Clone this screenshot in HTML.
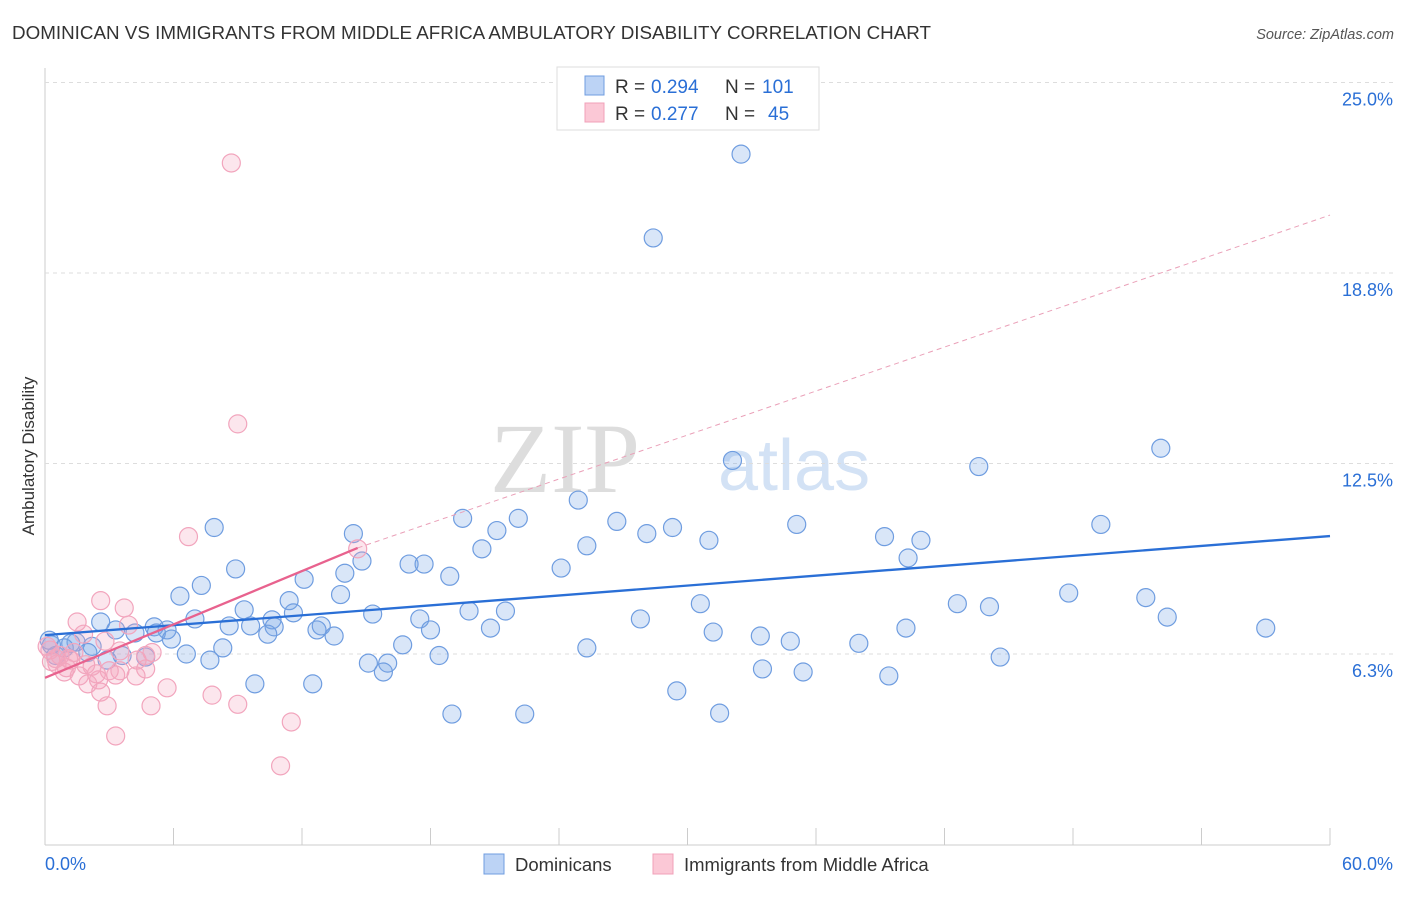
<!DOCTYPE html>
<html><head><meta charset="utf-8"><style>
body{margin:0;background:#fff;font-family:"Liberation Sans",sans-serif}
</style></head><body>
<svg id="c" width="1406" height="892" xmlns="http://www.w3.org/2000/svg" style="font-family:'Liberation Sans',sans-serif">
<text x="12" y="39" font-size="18" fill="#333" textLength="919" lengthAdjust="spacingAndGlyphs">DOMINICAN VS IMMIGRANTS FROM MIDDLE AFRICA AMBULATORY DISABILITY CORRELATION CHART</text>
<text x="1394" y="39" font-size="14.5" fill="#555" text-anchor="end" font-style="italic">Source: ZipAtlas.com</text>
<text x="640" y="492" font-size="100" fill="#ddd" text-anchor="end" font-family="Liberation Serif,serif">ZIP</text>
<text x="718" y="490" font-size="72" fill="#d3e2f5">atlas</text>
<text x="34" y="456" font-size="17" fill="#333" text-anchor="middle" transform="rotate(-90 34 456)">Ambulatory Disability</text>
<g id="grid"></g><g id="pts"></g><g id="lines"></g>
<g>
<rect x="557" y="67" width="262" height="63" fill="#fff" stroke="#ddd"/>
<rect x="585" y="76" width="19" height="19" fill="#bcd3f5" stroke="#6f9de0"/>
<rect x="585" y="103" width="19" height="19" fill="#fbc8d6" stroke="#f0a0b8"/>
<text x="615" y="93" font-size="19" fill="#333">R =</text>
<text x="651" y="93" font-size="19" fill="#2a6fd6">0.294</text>
<text x="725" y="93" font-size="19" fill="#333">N =</text>
<text x="762" y="93" font-size="19" fill="#2a6fd6">101</text>
<text x="615" y="120" font-size="19" fill="#333">R =</text>
<text x="651" y="120" font-size="19" fill="#2a6fd6">0.277</text>
<text x="725" y="120" font-size="19" fill="#333">N =</text>
<text x="768" y="120" font-size="19" fill="#2a6fd6">45</text>
</g>
<g>
<rect x="484" y="854" width="20" height="20" fill="#bcd3f5" stroke="#6f9de0"/>
<text x="515" y="871" font-size="18.5" fill="#333">Dominicans</text>
<rect x="653" y="854" width="20" height="20" fill="#fbc8d6" stroke="#f0a0b8"/>
<text x="684" y="871" font-size="18.5" fill="#333">Immigrants from Middle Africa</text>
</g>
</svg>
<script>
const yTicks=[6.25,12.5,18.75,25];
const yTickLabels=["6.3%","12.5%","18.8%","25.0%"];
const xTickLabels=["0.0%","60.0%"];
const blueX=[32.5,28.4,52.1,43.6,32.1,24.9,19.5,22.1,26.7,29.3,35.1,49.3,21.1,28.1,39.2,14.4,7.9,31.0,40.9,25.3,20.4,40.3,14.8,17.0,17.7,24.1,8.9,18.9,12.1,14.0,7.3,6.3,13.8,47.8,51.4,30.6,42.6,44.1,11.4,9.3,19.8,21.5,11.6,15.3,17.5,27.8,52.4,7.0,10.6,2.6,8.6,9.6,10.7,12.9,5.1,5.7,20.8,40.2,57.0,3.3,4.2,5.2,12.7,18.0,31.2,10.4,13.5,33.4,5.9,34.8,38.0,16.7,8.3,25.3,1.45,2.2,0.9,0.3,0.5,2.0,6.6,3.6,4.7,2.9,7.7,18.4,44.6,15.1,16.0,15.8,33.5,35.4,39.4,9.8,12.5,29.5,19.0,22.4,31.5,0.2,1.2];
const blueY=[22.65,19.9,13.0,12.4,12.6,11.3,10.7,10.7,10.6,10.4,10.5,10.5,10.3,10.2,10.1,10.2,10.4,9.98,9.98,9.8,9.7,9.4,9.3,9.2,9.2,9.07,9.04,8.8,8.7,8.9,8.5,8.15,8.2,8.25,8.1,7.9,7.9,7.8,8.0,7.7,7.66,7.66,7.6,7.56,7.4,7.4,7.46,7.4,7.37,7.3,7.17,7.17,7.14,7.17,7.14,7.04,7.1,7.1,7.1,7.04,6.94,6.94,7.04,7.04,6.97,6.9,6.84,6.84,6.74,6.67,6.6,6.55,6.45,6.45,6.64,6.5,6.45,6.55,6.2,6.3,6.25,6.2,6.15,6.05,6.05,6.2,6.15,5.95,5.95,5.66,5.76,5.66,5.53,5.27,5.27,5.04,4.28,4.28,4.31,6.7,6.6];
const pinkX=[8.7,9.0,6.7,14.6,2.6,3.7,1.5,3.9,1.8,2.8,0.23,0.7,1.2,3.5,4.7,4.3,0.56,1.0,2.2,3.5,4.7,0.9,1.6,2.5,3.3,4.25,2.0,2.6,5.7,7.8,2.9,4.95,9.0,11.5,3.3,11.0,0.3,1.35,0.5,1.9,5.0,0.1,2.4,3.0,1.1];
const pinkY=[22.36,13.8,10.1,9.7,8.0,7.76,7.3,7.2,6.9,6.67,6.38,6.2,6.05,6.35,6.2,6.05,5.92,5.8,5.85,5.7,5.76,5.66,5.53,5.4,5.56,5.53,5.27,5.0,5.14,4.9,4.55,4.55,4.6,4.02,3.56,2.58,6.0,6.3,6.1,5.9,6.3,6.5,5.6,5.7,6.1];
const blueTrend=[[0,6.87],[60,10.12]];
const pinkTrend=[[0,5.47],[14.6,9.73]];
const pinkDash=[[14.6,9.73],[60,20.65]];
const X0=45,X1=1330,YB=844.5,PPY=190.5/6.25;
const sx=v=>X0+v/60*(X1-X0), sy=v=>YB-v*PPY;
const NS="http://www.w3.org/2000/svg";
function mk(t,a,p){const e=document.createElementNS(NS,t);for(const k in a)e.setAttribute(k,a[k]);document.getElementById(p).appendChild(e);return e;}
let ax=mk('line',{x1:45,y1:68,x2:45,y2:845,stroke:'#ccc'},'grid');


let bx=mk('line',{x1:45,y1:845,x2:1330,y2:845,stroke:'#ccc'},'grid');


yTicks.forEach((t,i)=>{
 const g=mk('line',{x1:45,x2:1394,y1:sy(t),y2:sy(t),stroke:'#ddd','stroke-dasharray':'4 4'},'grid');
 
 
 const l=mk('text',{x:1393,y:sy(t)+23,'font-size':18,fill:'#2a6fd6','text-anchor':'end'},'grid');
 l.textContent=yTickLabels[i];
 
 
});
for(let i=0;i<=10;i++){
 const t=mk('line',{x1:sx(i*6),x2:sx(i*6),y1:828,y2:845,stroke:'#ccc'},'grid');
 
 
}
[[0,'start',45],[60,'end',1393]].forEach((d,i)=>{
 const l=mk('text',{x:d[2],y:870,'font-size':18,fill:'#2a6fd6','text-anchor':d[1]},'grid');
 l.textContent=xTickLabels[i];
 
 
});
blueX.forEach((v,i)=>{
 const c=mk('circle',{cx:sx(v),cy:sy(blueY[i]),r:9,fill:'rgba(120,165,230,0.28)',stroke:'#6f9de0','stroke-width':1.2},'pts');
 
 
});
pinkX.forEach((v,i)=>{
 const c=mk('circle',{cx:sx(v),cy:sy(pinkY[i]),r:9,fill:'rgba(245,165,190,0.28)',stroke:'#f2a5bd','stroke-width':1.2},'pts');
 
 
});
let l1=mk('line',{x1:sx(blueTrend[0][0]),y1:sy(blueTrend[0][1]),x2:sx(blueTrend[1][0]),y2:sy(blueTrend[1][1]),stroke:'#2a6fd6','stroke-width':2.3},'lines');


let l2=mk('line',{x1:sx(pinkTrend[0][0]),y1:sy(pinkTrend[0][1]),x2:sx(pinkTrend[1][0]),y2:sy(pinkTrend[1][1]),stroke:'#e8628e','stroke-width':2.3},'lines');


let l3=mk('line',{x1:sx(pinkDash[0][0]),y1:sy(pinkDash[0][1]),x2:sx(pinkDash[1][0]),y2:sy(pinkDash[1][1]),stroke:'#eaa0b8','stroke-width':1,'stroke-dasharray':'5 4'},'lines');


</script>
</body></html>
